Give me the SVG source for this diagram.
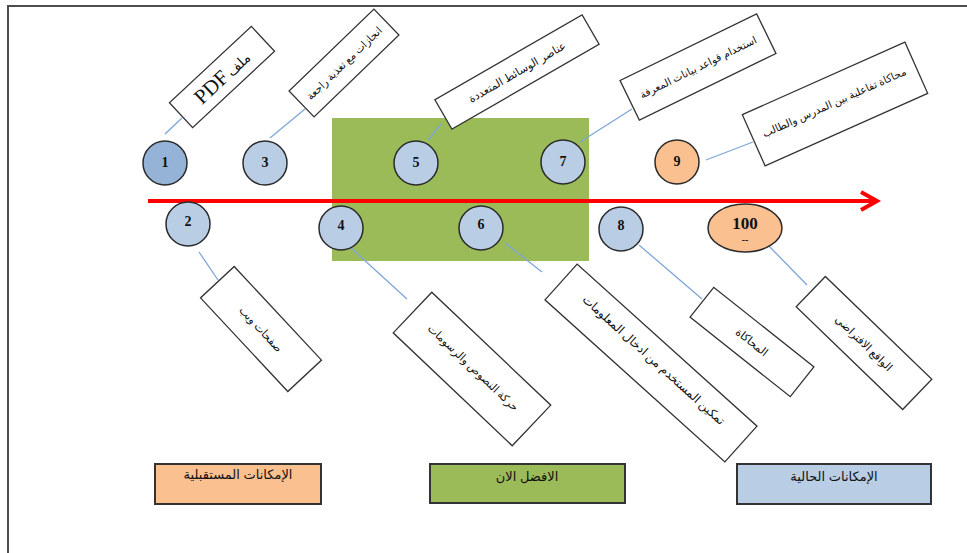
<svg xmlns="http://www.w3.org/2000/svg" width="967" height="553" viewBox="0 0 967 553">
<style>
.frame{fill:none;stroke:#4d4d4d;stroke-width:2}
.c{stroke:#2b2b2b;stroke-width:1.5}
.cb{fill:#b9cde5}
.cd{fill:#95b3d7}
.co{fill:#fac090}
.num{font-family:"Liberation Serif","Times New Roman",serif;font-weight:bold;font-size:14px;text-anchor:middle;fill:#111}
.box{fill:#fff;stroke:#333;stroke-width:1.3}
.lbl{font-family:"Liberation Serif","DejaVu Serif","DejaVu Sans",serif;font-size:11px;text-anchor:middle;fill:#111}
.conn line{stroke:#7ea6d9;stroke-width:1.3}
.leg{stroke:#333;stroke-width:2}
.legt{font-family:"Liberation Sans","DejaVu Sans",sans-serif;font-size:13px;text-anchor:middle;fill:#111}
</style>
<rect x="8" y="6" width="1100" height="700" class="frame"/>
<rect id="best-area" x="332" y="118" width="257" height="143" fill="#9bbb59"/>
<g id="timeline">
<line x1="148" y1="201" x2="876" y2="201" stroke="#ff0000" stroke-width="4"/>
<polyline points="861,192 877,201 861,210" fill="none" stroke="#ff0000" stroke-width="4"/>
</g>
<g class="conn" id="connectors">
<line x1="165" y1="134" x2="182" y2="118"/>
<line x1="270" y1="138" x2="305" y2="109"/>
<line x1="428" y1="140" x2="441" y2="124"/>
<line x1="580" y1="142" x2="632" y2="109"/>
<line x1="706" y1="160" x2="753" y2="142"/>
<line x1="199" y1="252" x2="218" y2="280"/>
<line x1="350" y1="247" x2="407" y2="299"/>
<line x1="505" y1="243" x2="542" y2="272"/>
<line x1="639" y1="245" x2="702" y2="299"/>
<line x1="765" y1="242" x2="807" y2="285"/>
</g>
<g id="n1"><circle cx="165" cy="163" r="22" class="c cd"/><text x="165" y="167" class="num">1</text></g>
<g id="n3"><circle cx="265" cy="163" r="22" class="c cb"/><text x="265" y="167" class="num">3</text></g>
<g id="n5"><circle cx="416" cy="163" r="22" class="c cb"/><text x="416" y="167" class="num">5</text></g>
<g id="n7"><circle cx="563" cy="162" r="22" class="c cb"/><text x="563" y="166" class="num">7</text></g>
<g id="n9"><circle cx="677" cy="162" r="22" class="c co"/><text x="677" y="166" class="num">9</text></g>
<g id="n2"><circle cx="188" cy="224" r="22" class="c cb"/><text x="188" y="226" class="num">2</text></g>
<g id="n4"><circle cx="341" cy="228" r="22" class="c cb"/><text x="341" y="230" class="num">4</text></g>
<g id="n6"><circle cx="481" cy="228" r="22" class="c cb"/><text x="481" y="229" class="num">6</text></g>
<g id="n8"><circle cx="621" cy="229" r="22" class="c cb"/><text x="621" y="230" class="num">8</text></g>
<g id="n100"><ellipse cx="745" cy="228" rx="37" ry="24" class="c co"/><text x="745" y="229" class="num" style="font-size:17px">100</text><text x="745" y="243" class="num" style="font-size:10px">--</text></g>
<g id="b1" transform="translate(222,77) rotate(-43)"><rect x="-56" y="-17" width="112" height="34" class="box"/><text x="0" y="7" class="lbl"><tspan style="font-size:21px">PDF</tspan> <tspan style="font-size:14px">ملف</tspan></text></g>
<g id="b3" transform="translate(344,63) rotate(-44)"><rect x="-59" y="-18" width="118" height="36" class="box"/><text x="0" y="4" class="lbl" style="font-size:10.5px" direction="rtl">انجازات مع تغذية راجعة</text></g>
<g id="b5" transform="translate(517,72) rotate(-30)"><rect x="-85" y="-17" width="170" height="34" class="box"/><text x="0" y="4" class="lbl" direction="rtl">عناصر الوسائط المتعددة</text></g>
<g id="b7" transform="translate(698,67) rotate(-26)"><rect x="-76" y="-22" width="152" height="44" class="box"/><text x="0" y="4" class="lbl" style="font-size:10.5px" direction="rtl">استخدام قواعد بيانات المعرفة</text></g>
<g id="b9" transform="translate(835,104) rotate(-24)"><rect x="-89" y="-28" width="178" height="56" class="box"/><text x="0" y="2" class="lbl" style="font-size:10.5px" direction="rtl">محاكاة تفاعلية بين المدرس والطالب</text></g>
<g id="b2" transform="translate(261,329) rotate(47)"><rect x="-64" y="-23" width="128" height="46" class="box"/><text x="0" y="4" class="lbl" direction="rtl">صفحات ويب</text></g>
<g id="b4" transform="translate(472,369) rotate(43.5)"><rect x="-82" y="-28" width="164" height="56" class="box"/><text x="0" y="2" class="lbl" direction="rtl">حركة النصوص والرسومات</text></g>
<g id="b6" transform="translate(651,363) rotate(42)"><rect x="-121" y="-24" width="242" height="48" class="box"/><text x="0" y="0" class="lbl" style="font-size:12px" direction="rtl">تمكين المستخدم من ادخال المعلومات</text></g>
<g id="b8" transform="translate(752,342) rotate(38.5)"><rect x="-64" y="-19" width="128" height="38" class="box"/><text x="0" y="4" class="lbl" direction="rtl">المحاكاة</text></g>
<g id="b100" transform="translate(864,343) rotate(44)"><rect x="-74" y="-21" width="148" height="42" class="box"/><text x="0" y="4" class="lbl" direction="rtl">الواقع الافتراضي</text></g>
<g id="legend-future"><rect x="155" y="464" width="166" height="40" class="leg co"/><text x="238" y="479" class="legt" direction="rtl">الإمكانات المستقبلية</text></g>
<g id="legend-best"><rect x="430" y="464" width="195" height="39" class="leg" fill="#9bbb59"/><text x="527" y="481" class="legt" direction="rtl">الافضل الان</text></g>
<g id="legend-current"><rect x="737" y="464" width="194" height="40" class="leg cb"/><text x="834" y="481" class="legt" direction="rtl">الإمكانات الحالية</text></g>
</svg>
